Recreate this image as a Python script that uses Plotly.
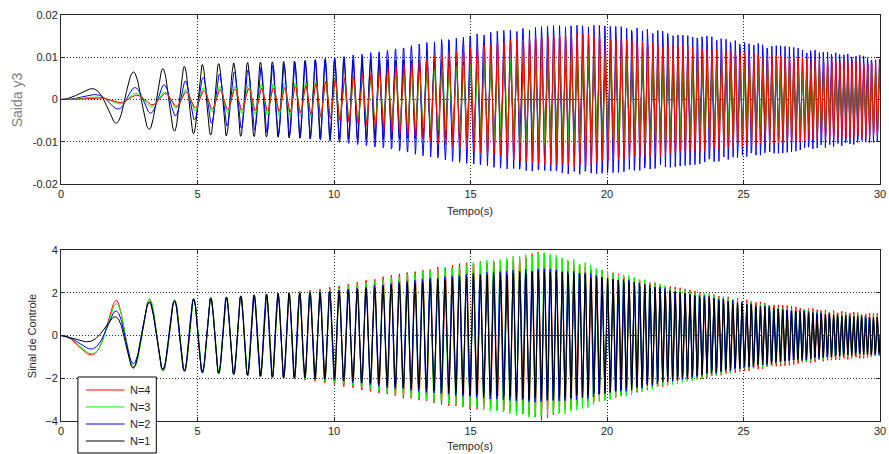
import numpy as np
import plotly.graph_objects as go

# ---------------------------------------------------------------------------
# Simulation settings
# ---------------------------------------------------------------------------
T_END = 30.0
SAMPLE_DT = 0.02          # output step of the simulation (s)

# instantaneous frequency of the oscillation (Hz) at a few instants
freq_time = [0.0, 0.5, 1.5, 2.3, 3.0, 3.5, 4.0, 4.5, 5.0, 6.0, 7.0, 8.0, 12.5, 15.0, 18.0, 22.5, 26.0, 30.0]
freq_hz = [0.20, 0.25, 0.45, 0.80, 0.85, 1.00, 1.20, 1.45, 1.55, 1.80, 2.10, 2.45, 3.44, 3.93, 4.58, 5.50, 6.10, 7.10]

# ---------------------------------------------------------------------------
# Saida y3 : peak amplitude (x 1e-3) of each response, one value per second
# ---------------------------------------------------------------------------
y3_time = list(range(0, 31))
y3_n4 = [0, 0.3, 0.7, 1.1, 1.5, 2.0, 2.4, 2.6, 2.8, 3.3, 4.8, 5.8, 7.5, 9.0, 10.8, 12.2,
         13.5, 15.0, 15.5, 16.0, 15.0, 14.0, 13.3, 12.7, 12.0, 11.2, 10.6, 10.0, 9.5, 9.2, 8.8]
y3_n3 = [0, 0.5, 1.0, 1.6, 1.8, 2.7, 3.1, 3.5, 3.8, 4.0, 4.5, 5.0, 5.8, 6.5, 7.5, 8.5,
         9.5, 10.3, 11.0, 11.0, 11.0, 10.5, 10.0, 9.5, 9.0, 8.5, 8.0, 7.5, 7.0, 6.8, 6.5]
y3_n2 = [0, 1.0, 2.2, 3.1, 3.6, 5.0, 6.2, 7.2, 8.3, 9.2, 10.0, 10.8, 11.7, 13.0, 14.3, 15.3,
         16.2, 16.9, 17.5, 17.7, 17.5, 17.0, 16.3, 15.6, 14.8, 13.6, 13.0, 12.2, 11.4, 10.7, 10.0]
y3_n1 = [0, 2.4, 5.6, 7.0, 7.4, 8.2, 8.6, 8.8, 9.0, 9.3, 9.5, 9.5, 9.4, 9.3, 9.2, 9.0,
         8.8, 8.6, 8.4, 8.2, 8.0, 7.8, 7.6, 7.4, 7.2, 7.0, 6.8, 6.6, 6.4, 6.2, 6.0]

# ---------------------------------------------------------------------------
# Sinal de Controle : peak amplitude of each control signal
# ---------------------------------------------------------------------------
u_time = [0, 0.6, 1.05, 1.84, 2.04, 2.6, 3.24, 4, 5, 6, 7, 8, 9, 10, 11, 12, 13, 14, 15,
          16, 17, 17.6, 18, 19, 20, 21, 22, 23, 24, 25, 26, 27, 28, 29, 30]
u_n4 = [0, 0.6, 0.91, 1.55, 1.66, 1.45, 1.70, 1.65, 1.75, 1.80, 1.90, 2.00, 2.10, 2.30, 2.55,
        2.80, 3.05, 3.25, 3.45, 3.50, 3.70, 4.00, 3.75, 3.30, 3.00, 2.70, 2.40, 2.15, 1.90,
        1.70, 1.50, 1.35, 1.20, 1.10, 1.02]
u_n3 = [0, 0.55, 0.85, 1.40, 1.50, 1.45, 1.72, 1.65, 1.75, 1.80, 1.90, 2.00, 2.05, 2.20, 2.45,
        2.70, 2.95, 3.15, 3.40, 3.60, 3.80, 3.90, 3.80, 3.50, 3.10, 2.75, 2.40, 2.15, 1.90,
        1.62, 1.42, 1.25, 1.12, 1.02, 0.95]
u_n2 = [0, 0.40, 0.65, 1.10, 1.15, 1.30, 1.55, 1.60, 1.72, 1.78, 1.88, 1.98, 2.00, 2.10, 2.25,
        2.45, 2.60, 2.75, 2.90, 3.00, 3.10, 3.15, 3.10, 3.00, 2.80, 2.55, 2.25, 2.00, 1.78,
        1.55, 1.35, 1.20, 1.05, 0.95, 0.90]
u_n1 = [0, 0.20, 0.40, 0.80, 0.95, 1.53, 1.58, 1.60, 1.70, 1.78, 1.88, 1.98, 2.00, 2.05, 2.20,
        2.35, 2.50, 2.65, 2.80, 2.90, 3.00, 3.00, 3.00, 2.90, 2.70, 2.50, 2.20, 1.95, 1.72,
        1.50, 1.30, 1.15, 1.00, 0.90, 0.85]

# phase lead (rad) of each signal relative to the reference oscillation
lead_time = [0, 0.6, 1.84, 2.57, 3.24, 6, 15, 30]
y3_lead_n4 = [-0.55, -0.55, -0.55, -0.55, -0.55, -0.55, -0.45, -0.40]
y3_lead_n3 = [-0.40, -0.40, -0.40, -0.40, -0.40, -0.45, -0.55, -0.55]
y3_lead_n2 = [-0.25, -0.25, -0.25, -0.25, -0.25, -0.25, -0.20, -0.20]
y3_lead_n1 = [0.05, 0.05, 0.05, 0.05, 0.05, 0.05, -0.20, -0.30]
u_lead_n4 = [0, 0, 0, 0, 0, 0, -0.08, -0.10]
u_lead_n3 = [-0.05, -0.05, -0.05, -0.05, -0.05, -0.05, 0.12, 0.15]
u_lead_n2 = [0.05, 0.05, 0.05, 0.05, 0.05, 0.08, 0.18, 0.22]
u_lead_n1 = [0.70, 0.70, 0.44, 0.10, 0.0, 0.0, 0.0, 0.0]

legend_names = ["N=4", "N=3", "N=2", "N=1"]
colors = {"N=4": "#ff0000", "N=3": "#00ff00", "N=2": "#0000ff", "N=1": "#000000"}

# ---------------------------------------------------------------------------
# Reconstruct the sampled waveforms
# ---------------------------------------------------------------------------
t = np.arange(0.0, T_END + SAMPLE_DT / 2, SAMPLE_DT)
fine = np.linspace(0.0, T_END, 60001)
f_fine = np.interp(fine, freq_time, freq_hz)
cyc = np.concatenate([[0.0], np.cumsum(0.5 * (f_fine[1:] + f_fine[:-1]) * np.diff(fine))])
phase = 2 * np.pi * np.interp(t, fine, cyc)


def wave(env_t, env_v, lead_v, scale=1.0, sign=1.0):
    env = np.interp(t, env_t, env_v) * scale
    lead = np.interp(t, lead_time, lead_v)
    return sign * env * np.sin(phase + lead)


y3 = {
    "N=4": wave(y3_time, y3_n4, y3_lead_n4, 1e-3),
    "N=3": wave(y3_time, y3_n3, y3_lead_n3, 1e-3),
    "N=2": wave(y3_time, y3_n2, y3_lead_n2, 1e-3),
    "N=1": wave(y3_time, y3_n1, y3_lead_n1, 1e-3),
}
u = {
    "N=4": wave(u_time, u_n4, u_lead_n4, 1.0, -1.0),
    "N=3": wave(u_time, u_n3, u_lead_n3, 1.0, -1.0),
    "N=2": wave(u_time, u_n2, u_lead_n2, 1.0, -1.0),
    "N=1": wave(u_time, u_n1, u_lead_n1, 1.0, -1.0),
}

fig = go.Figure()

# upper panel: N=1 at the back, N=4 in front
for name in ["N=1", "N=2", "N=3", "N=4"]:
    fig.add_trace(go.Scatter(x=t, y=y3[name], mode="lines", name=name,
                             line=dict(color=colors[name], width=1),
                             xaxis="x", yaxis="y", showlegend=False, hoverinfo="skip"))

# lower panel: N=4 at the back, N=1 in front
for name in legend_names:
    fig.add_trace(go.Scatter(x=t, y=u[name], mode="lines", name=name,
                             line=dict(color=colors[name], width=1),
                             xaxis="x2", yaxis="y2", showlegend=False, hoverinfo="skip"))

FONT = "Liberation Sans, Arial, Helvetica, sans-serif"
INK = "#262626"
axis_style = dict(showline=True, linecolor=INK, linewidth=1, mirror="ticks",
                  ticks="inside", ticklen=4, tickcolor=INK,
                  showgrid=True, gridcolor=INK, gridwidth=1, griddash="1px,2px",
                  zeroline=False, ticklabeloverflow="allow",
                  tickfont=dict(family=FONT, size=11, color=INK))

x_ticks = [0, 5, 10, 15, 20, 25, 30]
y3_ticks = [-0.02, -0.01, 0, 0.01, 0.02]
y3_labels = ["-0.02", "-0.01", "0", "0.01", "0.02"]
u_ticks = [-4, -2, 0, 2, 4]

# plot-area geometry in pixels (used to place the legend box and titles)
PLOT_L, PLOT_R, PLOT_T, PLOT_B = 61, 886, 15, 421


def px_x(px):
    return (px - PLOT_L) / (PLOT_R - PLOT_L)


def px_y(py):
    return (PLOT_B - py) / (PLOT_B - PLOT_T)


shapes = [dict(type="rect", xref="paper", yref="paper",
               x0=px_x(78), x1=px_x(157), y0=px_y(453), y1=px_y(377),
               line=dict(color="black", width=1), fillcolor="white", layer="above")]
annotations = []
for i, name in enumerate(legend_names):
    row_y = 390 + i * 17
    shapes.append(dict(type="line", xref="paper", yref="paper",
                       x0=px_x(86), x1=px_x(125), y0=px_y(row_y), y1=px_y(row_y),
                       line=dict(color=colors[name], width=1), layer="above"))
    annotations.append(dict(text=name, xref="paper", yref="paper", x=px_x(128), y=px_y(row_y),
                            xanchor="left", yanchor="middle", showarrow=False,
                            font=dict(family=FONT, size=11, color=INK)))


def title(text, x, y, size=11, color=INK, angle=0):
    return dict(text=text, xref="paper", yref="paper", x=px_x(x), y=px_y(y),
                xanchor="center", yanchor="middle", textangle=angle, showarrow=False,
                font=dict(family=FONT, size=size, color=color))


annotations += [
    title("Saida y3", 17, 100, size=14, color="#808080", angle=-90),
    title("Sinal de Controle", 32, 336, angle=-90),
    title("Tempo(s)", 473, 211),
    title("Tempo(s)", 473, 446),
]

fig.update_layout(
    width=889, height=454,
    margin=dict(l=PLOT_L, r=889 - PLOT_R, t=PLOT_T, b=454 - PLOT_B),
    paper_bgcolor="white", plot_bgcolor="white",
    font=dict(family=FONT, size=11, color=INK),
    showlegend=False,
    xaxis=dict(domain=[0, 1], range=[0, 30], tickvals=x_ticks, anchor="y", **axis_style),
    yaxis=dict(domain=[px_y(184), 1], range=[-0.02, 0.02], tickvals=y3_ticks,
               ticktext=y3_labels, anchor="x", **axis_style),
    xaxis2=dict(domain=[0, 1], range=[0, 30], tickvals=x_ticks, anchor="y2", **axis_style),
    yaxis2=dict(domain=[0, px_y(250)], range=[-4, 4], tickvals=u_ticks, anchor="x2",
                **axis_style),
    shapes=shapes,
    annotations=annotations,
)

fig.write_html("out.html")
